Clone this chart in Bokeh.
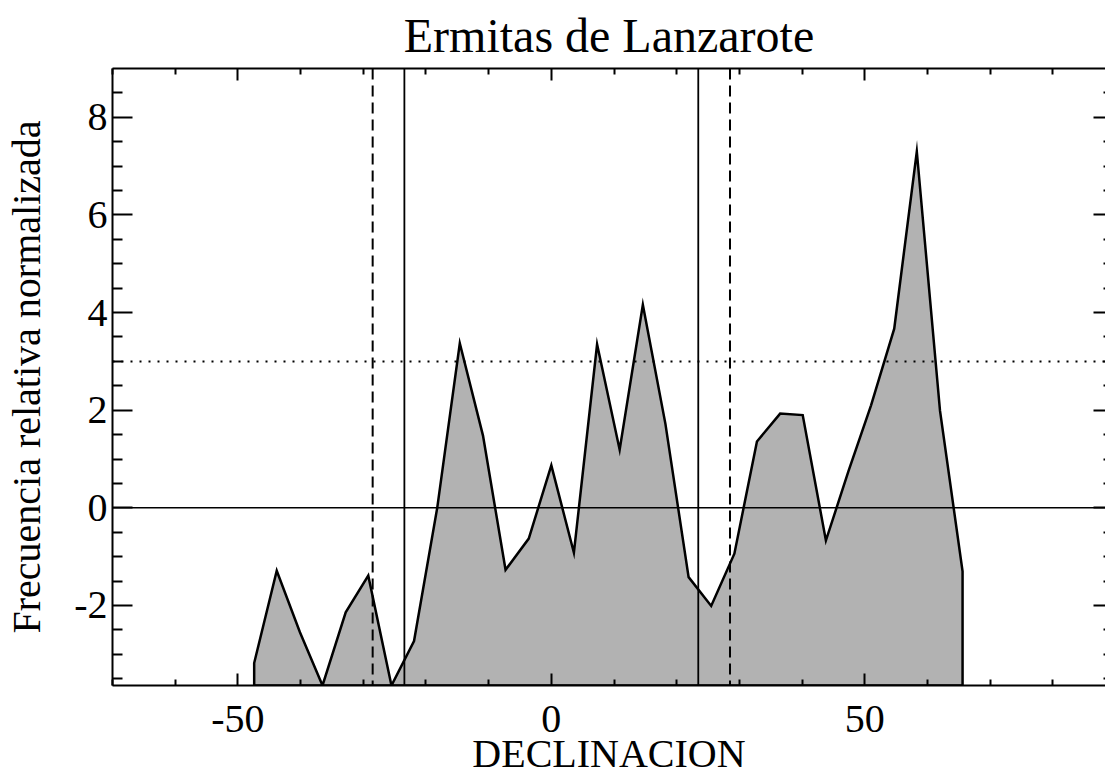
from bokeh.plotting import figure
from bokeh.models import FixedTicker, LinearAxis, Span, Range1d, CustomLabelingPolicy
from bokeh.embed import file_html
from bokeh.resources import INLINE

# ---- data ----
decl = [-47.4, -43.8, -40.1, -36.5, -32.8, -29.2, -25.5, -21.9, -18.2, -14.6,
        -10.9, -7.3, -3.6, 0.0, 3.6, 7.3, 10.9, 14.6, 18.2, 21.9,
        25.5, 29.2, 32.8, 36.5, 40.1, 43.8, 47.4, 51.0, 54.7, 58.3,
        62.0, 65.6]
freq = [-3.18, -1.29, -2.55, -3.64, -2.14, -1.39, -3.64, -2.73, 0.0, 3.37,
        1.48, -1.27, -0.63, 0.87, -0.92, 3.35, 1.19, 4.16, 1.72, -1.42,
        -2.01, -0.94, 1.36, 1.93, 1.90, -0.67, 0.75, 2.10, 3.67, 7.30,
        1.99, -1.30]

solstice_lines = [-23.44, 23.44]      # solid vertical lines
lunar_lines = [-28.5, 28.5]           # dashed vertical lines
zero_level = [0.0]                    # solid horizontal line
signif_level = [3.0]                  # dotted horizontal line

x_major = [-50, 0, 50]
x_major_labels = ["-50", "0", "50"]
x_minor = [-70, -60, -40, -30, -20, -10, 10, 20, 30, 40, 60, 70, 80]
y_major = [-2, 0, 2, 4, 6, 8]
y_major_labels = ["-2", "0", "2", "4", "6", "8"]
y_minor = [-3.5, -3, -2.5, -1.5, -1, -0.5, 0.5, 1, 1.5, 2.5, 3, 3.5,
           4.5, 5, 5.5, 6.5, 7, 7.5, 8.5]

title_text = "Ermitas de Lanzarote"
x_title = "DECLINACION"
y_title = "Frecuencia relativa normalizada"

x_lo, x_hi = -70, 88.4
y_lo, y_hi = -3.64, 9.0

FONT = "Liberation Serif"

p = figure(width=1105, height=778, output_backend="svg", toolbar_location=None,
           x_range=Range1d(x_lo, x_hi), y_range=Range1d(y_lo, y_hi),
           min_border_left=112, min_border_right=0, min_border_top=68,
           min_border_bottom=90, x_axis_label=x_title, y_axis_label=y_title)
p.outline_line_color = None
p.grid.visible = False
p.background_fill_color = "white"
p.border_fill_color = "white"

p.title.text = title_text
p.title.align = "center"
p.title.offset = 4
p.title.standoff = 13
p.title.text_font = FONT
p.title.text_font_size = "48px"
p.title.text_font_style = "normal"
p.title.text_color = "black"

# ---- filled curve ----
px = [decl[0]] + decl + [decl[-1]]
py = [y_lo] + freq + [y_lo]
p.patch(px, py, fill_color="#b2b2b2", line_color="black", line_width=2.5,
        line_join="miter")

# ---- reference lines ----
for v in solstice_lines:
    p.add_layout(Span(location=v, dimension="height", line_color="black", line_width=1.8))
for v in lunar_lines:
    p.add_layout(Span(location=v, dimension="height", line_color="black", line_width=2,
                      line_dash="11 6"))
for v in zero_level:
    p.add_layout(Span(location=v, dimension="width", line_color="black", line_width=1.6))
for v in signif_level:
    p.add_layout(Span(location=v, dimension="width", line_color="black", line_width=2,
                      line_dash="2 7"))

xt = FixedTicker(ticks=x_major, minor_ticks=x_minor)
yt = FixedTicker(ticks=y_major, minor_ticks=y_minor)


def style(ax, tin, mtin, labels=True):
    ax.axis_line_color = "black"
    ax.axis_line_width = 2
    ax.major_tick_line_color = "black"
    ax.minor_tick_line_color = "black"
    ax.major_tick_line_width = 2
    ax.minor_tick_line_width = 2
    ax.major_tick_in = tin
    ax.major_tick_out = 0
    ax.minor_tick_in = mtin
    ax.minor_tick_out = 0
    if labels:
        ax.major_label_text_font = FONT
        ax.major_label_text_font_size = "40px"
        ax.major_label_text_color = "black"
        ax.axis_label_text_font = FONT
        ax.axis_label_text_font_size = "40px"
        ax.axis_label_text_font_style = "normal"
        ax.axis_label_text_color = "black"
    else:
        ax.major_label_text_font_size = "0px"
        ax.major_label_standoff = 0
        ax.axis_label_standoff = 0
        ax.axis_label = None
        ax.major_label_policy = CustomLabelingPolicy(code="return []")


xa = p.xaxis[0]
xa.ticker = xt
style(xa, 12, 6)
xa.major_label_overrides = dict(zip(x_major, x_major_labels))
xa.major_label_standoff = 20
xa.axis_label_standoff = -4

ya = p.yaxis[0]
ya.ticker = yt
style(ya, 20, 10)
ya.major_label_overrides = dict(zip(y_major, y_major_labels))
ya.major_label_standoff = 5
ya.axis_label_standoff = 22

top = LinearAxis(ticker=xt)
style(top, 12, 6, labels=False)
p.add_layout(top, "above")

right = LinearAxis(ticker=yt)
style(right, 12, 2, labels=False)
right.axis_line_color = None
p.add_layout(right, "right")

open("out.html", "w").write(file_html(p, INLINE))
